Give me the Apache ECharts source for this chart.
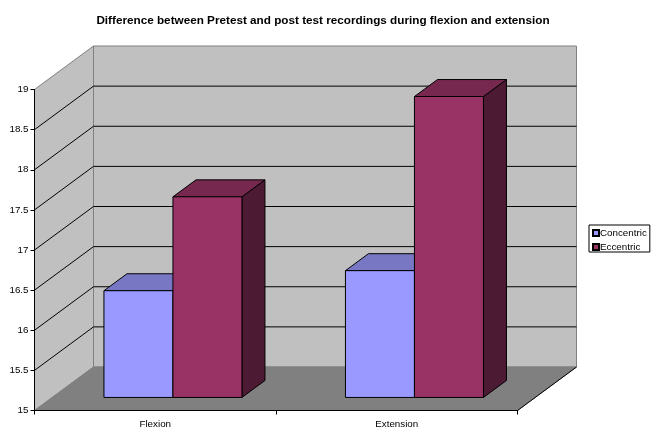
<!DOCTYPE html>
<html>
<head>
<meta charset="utf-8">
<style>html,body{margin:0;padding:0;background:#fff}#chart{width:656px;height:427px}</style>
<script src="https://cdn.jsdelivr.net/npm/echarts@6/dist/echarts.min.js"></script>
</head>
<body>
<div id="chart"></div>
<script>
// Chart values
const titleText = 'Difference between Pretest and post test recordings during flexion and extension';
const categories = ['Flexion', 'Extension'];
const concentric = [16.33, 16.58];
const eccentric = [17.5, 18.75];
const gridTicks = [15.5, 16, 16.5, 17, 17.5, 18, 18.5];

// Oblique projection of the depth axis, in pixels
const WALL_DX = 59, WALL_DY = -43.5;
const BAR_FRONT = 0.3, BAR_BACK = 0.69;
const BAR_SHARE = 69 / 241.5;

const FONT = '"Liberation Sans", Arial, sans-serif';

function poly(points, fill, stroke, lineWidth) {
  return {
    type: 'polygon',
    shape: { points },
    style: { fill, stroke, lineWidth: lineWidth == null ? 1 : lineWidth }
  };
}

// Side wall, back wall and floor of the box
function renderBox(params, api) {
  const origin = api.coord([0, 15]);
  const top = api.coord([0, 19])[1];
  const cs = params.coordSys;
  const x0 = cs.x, x1 = cs.x + cs.width, y0 = origin[1];
  const edge = '#808080';
  return {
    type: 'group',
    children: [
      poly([[x0 + WALL_DX, top + WALL_DY], [x1 + WALL_DX, top + WALL_DY], [x1 + WALL_DX, y0 + WALL_DY], [x0 + WALL_DX, y0 + WALL_DY]], '#C0C0C0', edge),
      poly([[x0, top], [x0 + WALL_DX, top + WALL_DY], [x0 + WALL_DX, y0 + WALL_DY], [x0, y0]], '#C0C0C0', edge),
      poly([[x0, y0], [x0 + WALL_DX, y0 + WALL_DY], [x1 + WALL_DX, y0 + WALL_DY], [x1, y0]], '#808080', edge),
      { type: 'line', shape: { x1: x1, y1: y0, x2: x1 + WALL_DX, y2: y0 + WALL_DY }, style: { stroke: '#000', lineWidth: 1 } }
    ]
  };
}

// One gridline running across the side wall and the back wall
function renderGridline(params, api) {
  const y = api.coord([0, api.value(1)])[1];
  const cs = params.coordSys;
  return {
    type: 'polyline',
    shape: { points: [[cs.x, y], [cs.x + WALL_DX, y + WALL_DY], [cs.x + cs.width + WALL_DX, y + WALL_DY]] },
    style: { fill: null, stroke: '#000', lineWidth: 1 }
  };
}

// Extruded bar; side is -1 for the left bar of a pair, 0 for the right one
function barRenderer(side, front, topFace, sideFace) {
  return function (params, api) {
    const p = api.coord([api.value(0), api.value(1)]);
    const base = api.coord([api.value(0), 15])[1];
    const w = api.size([1, 0])[0] * BAR_SHARE;
    const fx = BAR_FRONT * WALL_DX, fy = BAR_FRONT * WALL_DY;
    const bx = (BAR_BACK - BAR_FRONT) * WALL_DX, by = (BAR_BACK - BAR_FRONT) * WALL_DY;
    const xl = p[0] + fx + side * w, xr = xl + w;
    const yt = p[1] + fy, yb = base + fy;
    return {
      type: 'group',
      children: [
        poly([[xr, yt], [xr + bx, yt + by], [xr + bx, yb + by], [xr, yb]], sideFace, '#000'),
        poly([[xl, yt], [xl + bx, yt + by], [xr + bx, yt + by], [xr, yt]], topFace, '#000'),
        poly([[xl, yt], [xr, yt], [xr, yb], [xl, yb]], front, '#000')
      ]
    };
  };
}

const chart = echarts.init(document.getElementById('chart'), null, { renderer: 'canvas' });
chart.setOption({
  animation: false,
  backgroundColor: '#fff',
  title: {
    text: titleText,
    left: 318,
    textAlign: 'center',
    top: 10,
    textStyle: { fontFamily: FONT, fontSize: 11.73, fontWeight: 'bold', color: '#000' }
  },
  legend: {
    data: ['Concentric', 'Eccentric'],
    orient: 'vertical',
    left: 589,
    top: 225,
    padding: [3, 3, 0, 3],
    itemWidth: 6,
    itemHeight: 6,
    itemGap: 4,
    icon: 'rect',
    borderColor: '#000',
    borderWidth: 1,
    backgroundColor: '#fff',
    textStyle: { fontFamily: FONT, fontSize: 9.8, color: '#000', padding: [0, 0, 0, -4] }
  },
  grid: { left: 34.5, width: 483, top: 89.5, height: 321, outerBoundsMode: 'none' },
  xAxis: {
    type: 'category',
    data: categories,
    z: 10,
    axisLine: { lineStyle: { color: '#000', width: 1 } },
    axisTick: { show: true, length: 4, lineStyle: { color: '#000' } },
    axisLabel: { fontFamily: FONT, fontSize: 9.8, color: '#000', margin: 9 },
    splitLine: { show: false }
  },
  yAxis: {
    type: 'value',
    min: 15,
    max: 19,
    interval: 0.5,
    z: 10,
    axisLine: { show: true, lineStyle: { color: '#000', width: 1 } },
    axisTick: { show: true, length: 4, lineStyle: { color: '#000' } },
    axisLabel: { fontFamily: FONT, fontSize: 9.8, color: '#000', margin: 6 },
    splitLine: { show: false }
  },
  series: [
    { type: 'custom', name: 'box', silent: true, z: 1, renderItem: renderBox, data: [[0, 15]] },
    { type: 'custom', name: 'gridlines', silent: true, z: 2, renderItem: renderGridline, data: gridTicks.map(v => [0, v]) },
    {
      type: 'custom', name: 'Concentric', z: 3,
      itemStyle: { color: '#9999FF', borderColor: '#000', borderWidth: 1 },
      renderItem: barRenderer(-1, '#9999FF', '#7777C4', '#4D4D80'),
      data: concentric.map((v, i) => [i, v])
    },
    {
      type: 'custom', name: 'Eccentric', z: 4,
      itemStyle: { color: '#993366', borderColor: '#000', borderWidth: 1 },
      renderItem: barRenderer(0, '#993366', '#77284F', '#4D1A33'),
      data: eccentric.map((v, i) => [i, v])
    }
  ]
});
</script>
</body>
</html>
